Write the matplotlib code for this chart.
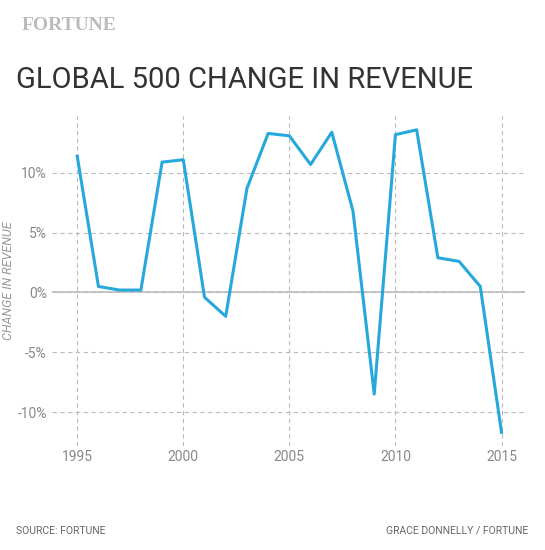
import matplotlib
matplotlib.use("Agg")
import matplotlib.pyplot as plt
from matplotlib.ticker import FuncFormatter

years = list(range(1995, 2016))
change = [11.4, 0.5, 0.2, 0.2, 10.9, 11.1, -0.4, -2.0, 8.7, 13.3, 13.1, 10.7, 13.4, 6.8, -8.5, 13.2, 13.6, 2.9, 2.6, 0.5, -11.7]
xticks = [1995, 2000, 2005, 2010, 2015]
yticks = [-10, -5, 0, 5, 10]

plt.rcParams['font.family'] = ['Roboto', 'DejaVu Sans']
fig = plt.figure(figsize=(5.45, 5.5), dpi=100)
ax = fig.add_axes([0.095, 0.19, 0.868, 0.60])
ax.plot(years, change, color="#27a8dc", lw=2.2, zorder=3)
ax.axhline(0, color="#bbbbbb", lw=1.2, zorder=2)
ax.set_xlim(1993.8, 2016.1)
ax.set_ylim(-12.8, 14.8)
ax.set_xticks(xticks)
ax.set_yticks(yticks)
ax.yaxis.set_major_formatter(FuncFormatter(lambda v, p: f"{int(v)}%"))
ax.grid(True, color="#bbbbbb", ls=(0, (4, 3)), lw=0.8)
for s in ax.spines.values():
    s.set_visible(False)
ax.tick_params(length=0, labelsize=10, colors="#888888")
ax.set_ylabel("CHANGE IN REVENUE", fontsize=9, color="#999999", style="italic", labelpad=2)

fig.text(0.04, 0.945, "FORTUNE", fontsize=14, color="#bbbbbb", family="Liberation Serif", weight="bold")
fig.text(0.03, 0.84, "GLOBAL 500 CHANGE IN REVENUE", fontsize=21, color="#333333")
fig.text(0.03, 0.03, "SOURCE: FORTUNE", fontsize=7.5, color="#666666")
fig.text(0.97, 0.03, "GRACE DONNELLY / FORTUNE", fontsize=7.5, color="#666666", ha="right")
fig.savefig("out.png", dpi=100, facecolor="white")
